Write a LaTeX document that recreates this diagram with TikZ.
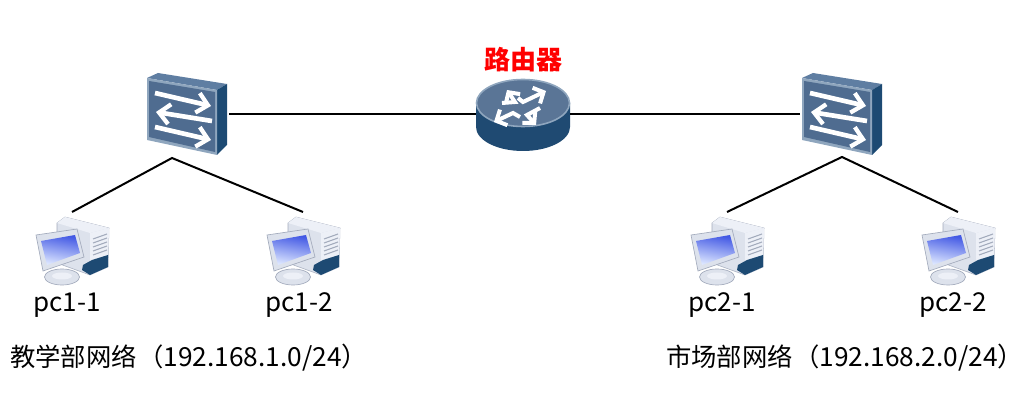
\documentclass[tikz,border=0pt]{standalone}
\usepackage{fontspec}
\setmainfont{Noto Sans CJK SC}
\usetikzlibrary{arrows.meta}
\definecolor{swfront}{HTML}{4F6C90}
\definecolor{swtop}{HTML}{5F7EA2}
\definecolor{swside}{HTML}{1D4A73}
\definecolor{swedge}{HTML}{8FA6BE}
\definecolor{rtside}{HTML}{1F4A72}
\definecolor{rttop}{HTML}{5A7596}
\definecolor{scrblue}{HTML}{4258E4}
\definecolor{scrpale}{HTML}{DCE6FF}
\definecolor{pcgrey}{HTML}{DDE2EC}
\definecolor{pclight}{HTML}{EDF0F7}
\definecolor{pcline}{HTML}{A3ABBC}
\tikzset{
	link/.style={line width=1.5pt,black},
	pclabel/.style={inner sep=0pt,font=\fontsize{19.5}{21}\selectfont},
	netlabel/.style={inner sep=0pt,font=\fontsize{19}{21}\selectfont},
	rtlabel/.style={inner sep=0pt,text=red,font=\bfseries\fontsize{19.5}{22}\selectfont},
	swarrow/.style={white,line width=3.5pt,-{Straight Barb[length=8pt,width=15pt,line width=3.2pt]}},
	rtarrow/.style={white,line width=3pt,line join=miter,-{Straight Barb[length=6pt,width=13pt,line width=3pt]}},
	pics/switchicon/.style={code={
		%top and side
		\fill[swtop] (0,0) -- (11,-5) -- (80,6) -- (70,12) -- cycle;
		\fill[swside] (70,12) -- (80,6) -- (80,67) -- (70,77) -- cycle;
		%front
		\fill[swedge] (0,0) -- (70,12) -- (70,77) -- (0,62) -- cycle;
		\fill[swfront] (2,3) -- (68,14) -- (68,74) -- (2,59) -- cycle;
		\draw[swarrow] (8,15) -- (64,28);
		\draw[swarrow] (65,43) -- (9,34);
		\draw[swarrow] (8,49) -- (64,62);
		\coordinate (-w) at (-2,36);
		\coordinate (-e) at (82,36);
	}},
	pics/routericon/.style={code={
		\fill[rtside] (-47,0) -- (-47,24) arc[start angle=180,end angle=0,x radius=47,y radius=24] -- (47,0) -- cycle;
		\fill[rttop,draw=swedge,line width=1.2pt] (0,0) ellipse[x radius=46.5,y radius=23.5];
		\draw[rtarrow] (-21,0) -- (-8,-1) -- (-16,-13);
		\draw[rtarrow] (-5,-5) -- (0,-1) -- (23,-12);
		\draw[rtarrow] (-3,14) -- (-10,10) -- (-29,19);
		\draw[rtarrow] (17,5) -- (4,12) -- (13,22);
		\coordinate (-w) at (-47,11);
		\coordinate (-e) at (47,11);
	}},
	pics/pcicon/.style={code={
		%tower
		\fill[pcgrey,draw=pcline,line width=0.4pt] (-15,-25) -- (-7,-31) -- (37,-20) -- (36,19) -- (18,27) -- (-15,15) -- cycle;
		\fill[pclight] (18,-15) -- (37,-20) -- (36,19) -- (18,27) -- cycle;
		\fill[pclight] (-15,-25) -- (-7,-31) -- (37,-20) -- (18,-15) -- cycle;
		\fill[swside] (11,17) -- (20,12) -- (36,7) -- (36,19) -- (18,27) -- (10,22) -- cycle;
		\foreach \i in {0,4,8,12,16} \draw[pcline,line width=0.8pt] (21,-9+\i) -- (35,-14+\i);
		%foot
		\fill[pcgrey,draw=pcline,line width=0.5pt] (-10,29) ellipse[x radius=17.5,y radius=8];
		\fill[pclight] (-10,28) ellipse[x radius=10,y radius=3.5];
		%monitor
		\fill[pcgrey,draw=pcline,line width=0.5pt] (-36,-13) -- (5,-19) -- (12,9) -- (-29,23) -- cycle;
		\shade[top color=scrblue,bottom color=scrpale,shading angle=-10] (-31,-7) -- (3,-13) -- (8,5) -- (-25,17) -- cycle;
		\coordinate (-n) at (0,-36);
	}},
}
\begin{document}
\begin{tikzpicture}[x=0.75pt,y=-0.75pt]
	\useasboundingbox (0,0) rectangle (1036,416);
	
	%Devices
	\pic (sw1) at (147,78) {switchicon};
	\pic (sw2) at (802,78) {switchicon};
	\pic (rt) at (523,103) {routericon};
	\pic (pc11) at (72,248) {pcicon};
	\pic (pc12) at (303,248) {pcicon};
	\pic (pc21) at (727,248) {pcicon};
	\pic (pc22) at (958,248) {pcicon};
	\coordinate (fork1) at (172,158);
	\coordinate (fork2) at (842,157);
	
	%Links
	\draw[link] (sw1-e) -- (rt-w);
	\draw[link] (rt-e) -- (sw2-w);
	\draw[link] (pc11-n) -- (fork1) -- (pc12-n);
	\draw[link] (pc21-n) -- (fork2) -- (pc22-n);
	
	%Text
	\node[rtlabel] (rttext) at (523,60) {路由器};
	\node[pclabel] (pc11text) at (67,305) {pc1-1};
	\node[pclabel] (pc12text) at (299,305) {pc1-2};
	\node[pclabel] (pc21text) at (722,305) {pc2-1};
	\node[pclabel] (pc22text) at (953,305) {pc2-2};
	\node[netlabel,anchor=west] (net1text) at (10,358) {教学部网络\hspace{1pt}（\fontsize{19.7}{21}\selectfont 192.168.1.0/24）};
	\node[netlabel,anchor=west] (net2text) at (666,358) {市场部网络\hspace{1pt}（\fontsize{19.7}{21}\selectfont 192.168.2.0/24）};
\end{tikzpicture}
\end{document}
